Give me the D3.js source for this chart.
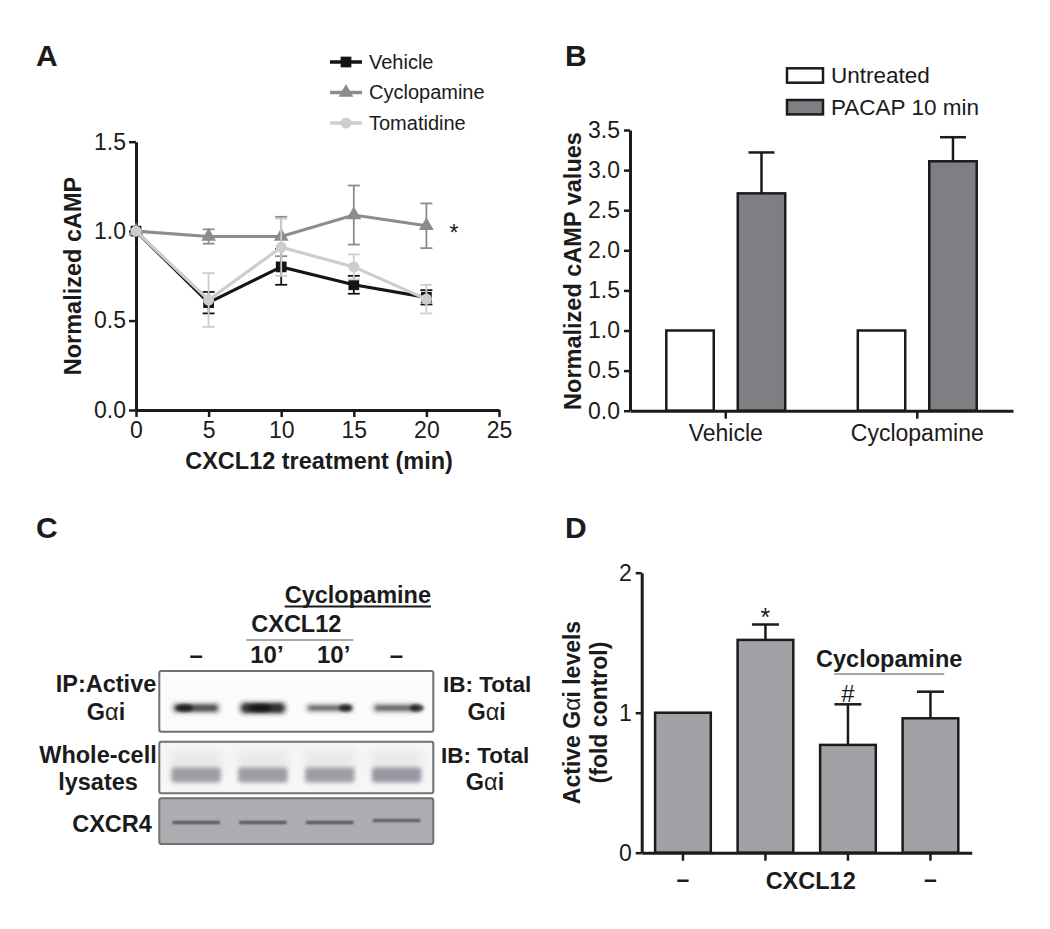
<!DOCTYPE html>
<html><head><meta charset="utf-8">
<script src="https://cdn.jsdelivr.net/npm/d3@7"></script>
<style>
body{margin:0;background:#fff;}
svg{display:block;}
</style></head><body>
<svg id="fig" width="1050" height="929"></svg>
<script>
// ---------- Panel A data ----------
const timesA = [0, 5, 10, 15, 20];
const vehicleA = [1.0, 0.60, 0.80, 0.70, 0.63];
const vehicleErrA = [0, 0.06, 0.10, 0.05, 0.04];
const cyclopamineA = [1.0, 0.97, 0.97, 1.09, 1.03];
const cyclopamineErrA = [0, 0.04, 0.11, 0.165, 0.125];
const tomatidineA = [1.0, 0.615, 0.91, 0.80, 0.62];
const tomatidineErrA = [0, 0.15, 0.16, 0.07, 0.08];
const xTicksA = [0, 5, 10, 15, 20, 25];
const yTicksA = [0, 0.5, 1.0, 1.5];
const seriesNamesA = ["Vehicle", "Cyclopamine", "Tomatidine"];

// ---------- Panel B data ----------
const groupsB = ["Vehicle", "Cyclopamine"];
const treatmentsB = ["Untreated", "PACAP 10 min"];
const untreatedB = [1.0, 1.0];
const pacapB = [2.71, 3.11];
const pacapErrB = [0.51, 0.30];
const yTicksB = [0, 0.5, 1.0, 1.5, 2.0, 2.5, 3.0, 3.5];

// ---------- Panel C data (blot band intensities, 0..1) ----------
const lanesC = ["–", "10’", "10’", "–"];
const activeGaiC = [0.6, 0.95, 0.4, 0.45];
const activeGaiPeakC = [0.25, 0.45, 0.85, 0.95];
const totalGaiC = [0.8, 0.8, 0.8, 0.85];
const cxcr4C = [0.8, 0.8, 0.8, 0.75];

// ---------- Panel D data ----------
const conditionsD = ["Control", "CXCL12", "Cyclopamine + CXCL12", "Cyclopamine"];
const tickLabelsD = ["–", "", "", "–"];
const valuesD = [1.0, 1.52, 0.77, 0.96];
const errD = [0, 0.11, 0.29, 0.19];
const yTicksD = [0, 1, 2];

// ---------- helpers ----------
const FF = '"Liberation Sans", Arial, Helvetica, sans-serif';
const INK = "#1b1b1b";
const BFS = 23.5;
const svg = d3.select("#fig").attr("font-family", FF);
svg.append("rect").attr("width", 1050).attr("height", 929).attr("fill", "#fff");

const defs = svg.append("defs");
[["b1", 1.4], ["b15", 2.2], ["b2", 2.0], ["b08", 0.8], ["b4", 4]].forEach(([id, s]) => {
  defs.append("filter").attr("id", id).attr("x", "-30%").attr("y", "-200%").attr("width", "160%").attr("height", "500%")
    .append("feGaussianBlur").attr("stdDeviation", s);
});

function styleAxis(g, o = {}) {
  g.attr("font-family", FF).attr("font-size", o.fs || 23);
  g.select(".domain").attr("stroke", INK).attr("stroke-width", o.dw || 3);
  g.selectAll(".tick line").attr("stroke", INK).attr("stroke-width", o.tw || 2.5);
  g.selectAll(".tick text").attr("fill", INK).style("font-weight", o.fw || "normal");
}
function label(g, txt, x, y, o = {}) {
  return g.append("text").attr("x", x).attr("y", y).text(txt)
    .attr("font-size", o.fs || BFS).attr("font-weight", o.fw || "bold")
    .attr("text-anchor", o.anchor || "start").attr("fill", o.fill || INK);
}
function gaiLabel(g, x, y, anchor, fs) {
  const t = g.append("text").attr("x", x).attr("y", y).attr("font-size", fs || BFS)
    .attr("font-weight", "bold").attr("text-anchor", anchor || "middle").attr("fill", INK);
  t.append("tspan").text("G");
  t.append("tspan").text("α").attr("font-weight", "normal");
  t.append("tspan").text("i");
  return t;
}

// =================== PANEL A ===================
const gA = svg.append("g");
const xA = d3.scaleLinear().domain([0, 25]).range([136, 499]);
const yA = d3.scaleLinear().domain([0, 1.5]).range([410, 141.7]);

const axYA = gA.append("g").attr("transform", "translate(136,0)")
  .call(d3.axisLeft(yA).tickValues(yTicksA).tickFormat(d3.format(".1f")).tickSize(7).tickSizeOuter(0).tickPadding(3));
styleAxis(axYA);
const axXA = gA.append("g").attr("transform", "translate(0,410)")
  .call(d3.axisBottom(xA).tickValues(xTicksA).tickFormat(d3.format("d")).tickSize(7).tickSizeOuter(0).tickPadding(5));
styleAxis(axXA);

const seriesA = [
  { name: seriesNamesA[0], vals: vehicleA, errs: vehicleErrA, color: "#151515", sym: d3.symbolSquare, size: 115 },
  { name: seriesNamesA[1], vals: cyclopamineA, errs: cyclopamineErrA, color: "#8c8c8c", sym: d3.symbolTriangle, size: 95 },
  { name: seriesNamesA[2], vals: tomatidineA, errs: tomatidineErrA, color: "#cdcdcd", sym: d3.symbolCircle, size: 95 }
];
seriesA.forEach(s => {
  const pts = timesA.map((t, i) => ({ t, v: s.vals[i], e: s.errs[i] }));
  const eg = gA.append("g").attr("stroke", s.color).attr("stroke-width", 1.8).attr("fill", "none");
  pts.filter(p => p.e > 0).forEach(p => {
    const x = xA(p.t), y1 = yA(p.v + p.e), y0 = yA(p.v - p.e);
    eg.append("line").attr("x1", x).attr("x2", x).attr("y1", y1).attr("y2", y0);
    eg.append("line").attr("x1", x - 6).attr("x2", x + 6).attr("y1", y1).attr("y2", y1);
    eg.append("line").attr("x1", x - 6).attr("x2", x + 6).attr("y1", y0).attr("y2", y0);
  });
  gA.append("path").datum(pts)
    .attr("d", d3.line().x(p => xA(p.t)).y(p => yA(p.v)))
    .attr("fill", "none").attr("stroke", s.color).attr("stroke-width", 3.2);
  gA.selectAll(null).data(pts).join("path")
    .attr("transform", p => `translate(${xA(p.t)},${yA(p.v)})`)
    .attr("d", d3.symbol(s.sym, s.size)).attr("fill", s.color);
});
// significance mark
label(gA, "*", xA(20) + 23, yA(cyclopamineA[4]) + 15, { fw: "normal", fs: 23 });

// legend
seriesA.forEach((s, i) => {
  const y = 62 + i * 30.5;
  gA.append("line").attr("x1", 330).attr("x2", 362).attr("y1", y).attr("y2", y)
    .attr("stroke", s.color).attr("stroke-width", 3.5);
  gA.append("path").attr("transform", `translate(346,${y})`).attr("d", d3.symbol(s.sym, s.size)).attr("fill", s.color);
  label(gA, s.name, 369, y + 6.5, { fw: "normal", fs: 20 });
});
label(gA, "A", 36, 66, { fs: 30 });
label(gA, "Normalized cAMP", 0, 0, { anchor: "middle" }).attr("transform", "translate(81,276) rotate(-90)").attr("x", null).attr("y", null);
label(gA, "CXCL12 treatment (min)", 319, 469, { anchor: "middle" });

// =================== PANEL B ===================
const gB = svg.append("g");
const yB = d3.scaleLinear().domain([0, 3.5]).range([410.7, 130]);
const x0B = d3.scaleBand().domain(groupsB).range([630, 1013]).paddingInner(0.379).paddingOuter(0.1895);
const x1B = d3.scaleBand().domain(treatmentsB).range([0, x0B.bandwidth()]).paddingInner(0.336);
const fillB = { "Untreated": "#ffffff", "PACAP 10 min": "#7e7f83" };

const barsB = groupsB.flatMap((g, i) => [
  { g, t: treatmentsB[0], v: untreatedB[i], e: 0 },
  { g, t: treatmentsB[1], v: pacapB[i], e: pacapErrB[i] }
]);
barsB.forEach(b => {
  const x = x0B(b.g) + x1B(b.t), w = x1B.bandwidth();
  if (b.e > 0) {
    const cx = x + w / 2, yt = yB(b.v + b.e);
    gB.append("line").attr("x1", cx).attr("x2", cx).attr("y1", yB(b.v)).attr("y2", yt).attr("stroke", INK).attr("stroke-width", 2.5);
    gB.append("line").attr("x1", cx - 13).attr("x2", cx + 13).attr("y1", yt).attr("y2", yt).attr("stroke", INK).attr("stroke-width", 2.5);
  }
  gB.append("rect").attr("x", x).attr("y", yB(b.v)).attr("width", w).attr("height", yB(0) - yB(b.v))
    .attr("fill", fillB[b.t]).attr("stroke", INK).attr("stroke-width", 2.5);
});
const axYB = gB.append("g").attr("transform", "translate(630,0)")
  .call(d3.axisLeft(yB).tickValues(yTicksB).tickFormat(d3.format(".1f")).tickSize(6).tickSizeOuter(0).tickPadding(4));
styleAxis(axYB);
const axXB = gB.append("g").attr("transform", "translate(0,410.7)")
  .call(d3.axisBottom(x0B).tickSize(8).tickSizeOuter(0).tickPadding(6));
styleAxis(axXB);

treatmentsB.forEach((t, i) => {
  const y = 68.3 + i * 31.7;
  gB.append("rect").attr("x", 787).attr("y", y).attr("width", 36).attr("height", 14.4)
    .attr("fill", fillB[t]).attr("stroke", INK).attr("stroke-width", 2.5);
  label(gB, t, 831, y + 14.7, { fw: "normal", fs: 22.5 });
});
label(gB, "B", 565, 66, { fs: 30 });
label(gB, "Normalized cAMP values", 0, 0, { anchor: "middle" }).attr("x", null).attr("y", null)
  .attr("transform", "translate(581,271) rotate(-90)");

// =================== PANEL C ===================
const gC = svg.append("g");
label(gC, "C", 36, 538, { fs: 30 });
const xC = d3.scaleBand().domain(d3.range(lanesC.length)).range([159.3, 433.3]).paddingInner(0.2).paddingOuter(0.15);
const rowsC = [
  { y0: 671, y1: 731.7, bg: "#fbfbfb" },
  { y0: 741.7, y1: 793.3, bg: "#f6f6f7" },
  { y0: 798.3, y1: 844, bg: "#adaeb1" }
];
rowsC.forEach(r => {
  gC.append("rect").attr("x", 159.3).attr("y", r.y0).attr("width", 274).attr("height", r.y1 - r.y0)
    .attr("fill", r.bg).attr("rx", 2);
});
// Row 1: active Gαi
lanesC.forEach((l, i) => {
  const x = xC(i), w = xC.bandwidth(), v = activeGaiC[i];
  const h = 3 + 8 * v;
  gC.append("rect").attr("x", x + 3).attr("y", 708 - h / 2 - 1).attr("width", w - 6).attr("height", h + 2)
    .attr("rx", h / 2).attr("fill", "#555").attr("opacity", 0.35 + 0.35 * v).attr("filter", "url(#b15)");
  gC.append("rect").attr("x", x + 6).attr("y", 708 - h / 2 + 1).attr("width", w - 12).attr("height", Math.max(2, h - 2))
    .attr("rx", h / 2).attr("fill", "#1a1a1a").attr("opacity", 0.2 + 0.6 * v).attr("filter", "url(#b1)");
  gC.append("ellipse").attr("cx", x + 4 + (w - 8) * activeGaiPeakC[i]).attr("cy", 708)
    .attr("rx", 3 + 9 * v).attr("ry", 3.5).attr("fill", "#0a0a0a").attr("opacity", 0.75).attr("filter", "url(#b1)");
});
// Row 2: total Gαi
lanesC.forEach((l, i) => {
  const x = xC(i), w = xC.bandwidth(), v = totalGaiC[i];
  gC.append("rect").attr("x", x + 1).attr("y", 750).attr("width", w - 2).attr("height", 20)
    .attr("fill", "#b8b9c0").attr("opacity", 0.2).attr("filter", "url(#b4)");
  gC.append("rect").attr("x", x + 2).attr("y", 767.5).attr("width", w - 4).attr("height", 15)
    .attr("rx", 3).attr("fill", "#868792").attr("opacity", v).attr("filter", "url(#b2)");
});
// Row 3: CXCR4
lanesC.forEach((l, i) => {
  const x = xC(i), w = xC.bandwidth(), v = cxcr4C[i];
  gC.append("rect").attr("x", x + 3).attr("y", 821 - (i === 3 ? 2 : 0)).attr("width", w - 6).attr("height", 3)
    .attr("fill", "#3a3a3a").attr("opacity", v).attr("filter", "url(#b08)");
});
rowsC.forEach(r => {
  gC.append("rect").attr("x", 159.3).attr("y", r.y0).attr("width", 274).attr("height", r.y1 - r.y0)
    .attr("fill", "none").attr("stroke", "#707070").attr("stroke-width", 2).attr("rx", 2);
});
// lane labels
lanesC.forEach((l, i) => {
  label(gC, l, xC(i) + xC.bandwidth() / 2 + (i === 1 || i === 2 ? 4 : 0), 663, { anchor: "middle", fs: 24 });
});
const cxMid = (xC(1) + xC(2) + xC.bandwidth()) / 2;
label(gC, "CXCL12", cxMid, 631.7, { anchor: "middle" });
gC.append("line").attr("x1", xC(1) + 10).attr("x2", xC(2) + xC.bandwidth() - 3).attr("y1", 640).attr("y2", 640)
  .attr("stroke", "#8a8a8a").attr("stroke-width", 1.5);
const cyc = label(gC, "Cyclopamine", 431, 603, { anchor: "end" });
const cycW = cyc.node().getComputedTextLength();
gC.append("line").attr("x1", 431 - cycW).attr("x2", 431).attr("y1", 606.5).attr("y2", 606.5)
  .attr("stroke", INK).attr("stroke-width", 2);
// row labels
label(gC, "IP:Active", 106, 691.7, { anchor: "middle" });
gaiLabel(gC, 106, 720, "middle");
label(gC, "Whole-cell", 98, 762.7, { anchor: "middle" });
label(gC, "lysates", 98, 790, { anchor: "middle" });
label(gC, "CXCR4", 112, 831.7, { anchor: "middle" });
label(gC, "IB: Total", 443, 691.7, { fs: 22.5 });
gaiLabel(gC, 486.7, 720, "middle");
label(gC, "IB: Total", 441, 762.7, { fs: 22.5 });
gaiLabel(gC, 485, 790, "middle");

// =================== PANEL D ===================
const gD = svg.append("g");
const yD = d3.scaleLinear().domain([0, 2]).range([852.7, 572.7]);
const xD = d3.scaleBand().domain(conditionsD).range([641.7, 971.7]).paddingInner(0.325).paddingOuter(0.1625);
conditionsD.forEach((c, i) => {
  const x = xD(c), w = xD.bandwidth(), v = valuesD[i], e = errD[i];
  if (e > 0) {
    const cx = x + w / 2, yt = yD(v + e);
    gD.append("line").attr("x1", cx).attr("x2", cx).attr("y1", yD(v)).attr("y2", yt).attr("stroke", INK).attr("stroke-width", 2.5);
    gD.append("line").attr("x1", cx - 13.5).attr("x2", cx + 13.5).attr("y1", yt).attr("y2", yt).attr("stroke", INK).attr("stroke-width", 2.5);
  }
  gD.append("rect").attr("x", x).attr("y", yD(v)).attr("width", w).attr("height", yD(0) - yD(v))
    .attr("fill", "#a1a2a6").attr("stroke", INK).attr("stroke-width", 2.5);
});
const axYD = gD.append("g").attr("transform", "translate(641.7,0)")
  .call(d3.axisLeft(yD).tickValues(yTicksD).tickFormat(d3.format("d")).tickSize(6).tickSizeOuter(0).tickPadding(4));
styleAxis(axYD);
const axXD = gD.append("g").attr("transform", "translate(0,852.7)")
  .call(d3.axisBottom(xD).tickFormat((d, i) => tickLabelsD[i]).tickSize(8).tickSizeOuter(0).tickPadding(10));
styleAxis(axXD, { fw: "bold" });
label(gD, "CXCL12", (xD(conditionsD[1]) + xD(conditionsD[2]) + xD.bandwidth()) / 2 + 4, 889, { anchor: "middle" });
// annotations
const c1 = xD(conditionsD[1]) + xD.bandwidth() / 2;
label(gD, "*", c1, yD(valuesD[1] + errD[1]) + 1, { anchor: "middle", fw: "normal", fs: 25 });
const c2 = xD(conditionsD[2]) + xD.bandwidth() / 2;
label(gD, "#", c2, yD(valuesD[2] + errD[2]) - 2, { anchor: "middle", fw: "normal", fs: 24 });
const c3 = xD(conditionsD[3]) + xD.bandwidth() / 2;
label(gD, "Cyclopamine", (c2 + c3) / 2, 667, { anchor: "middle" });
gD.append("line").attr("x1", xD(conditionsD[2]) + 14).attr("x2", xD(conditionsD[3]) + xD.bandwidth() - 14)
  .attr("y1", 674).attr("y2", 674).attr("stroke", "#8a8a8a").attr("stroke-width", 1.5);
label(gD, "D", 565, 538, { fs: 30 });
// y title (two lines)
const yt1 = gD.append("text").attr("transform", "translate(580,712.5) rotate(-90)").attr("text-anchor", "middle")
  .attr("font-size", 23).attr("font-weight", "bold").attr("fill", INK);
yt1.append("tspan").text("Active G");
yt1.append("tspan").text("α").attr("font-weight", "normal");
yt1.append("tspan").text("i levels");
gD.append("text").attr("transform", "translate(607,712.5) rotate(-90)").attr("text-anchor", "middle")
  .attr("font-size", 23).attr("font-weight", "bold").attr("fill", INK).text("(fold control)");
</script>
</body></html>
